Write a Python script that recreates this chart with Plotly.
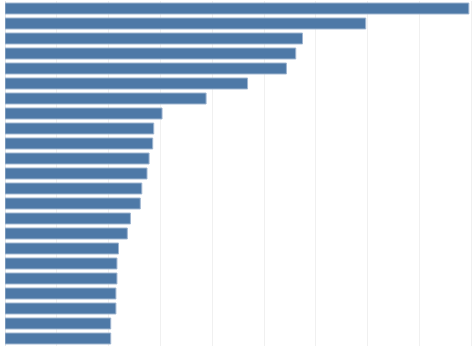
import plotly.graph_objects as go

categories = [f"Item {i}" for i in range(1, 24)]
values = [8.95, 6.96, 5.74, 5.61, 5.43, 4.68, 3.88, 3.03, 2.87, 2.85, 2.78, 2.74,
          2.64, 2.61, 2.42, 2.36, 2.19, 2.16, 2.16, 2.14, 2.14, 2.04, 2.04]

fig = go.Figure(go.Bar(
    x=values, y=categories, orientation="h",
    marker=dict(color="#4e79a7", line=dict(color="#9fb5d0", width=1)),
))
fig.update_layout(
    width=473, height=348,
    margin=dict(l=5, r=0, t=1, b=2),
    paper_bgcolor="white", plot_bgcolor="white",
    bargap=0.27, showlegend=False,
    xaxis=dict(range=[0, 9.03], dtick=1, showgrid=True, gridcolor="#f0f0f0",
               gridwidth=1, showticklabels=False, zeroline=True,
               zerolinecolor="#e6e6e6", zerolinewidth=1, fixedrange=True),
    yaxis=dict(autorange="reversed", showticklabels=False, showgrid=False,
               fixedrange=True),
)
fig.write_html("out.html", config={"displayModeBar": False})
